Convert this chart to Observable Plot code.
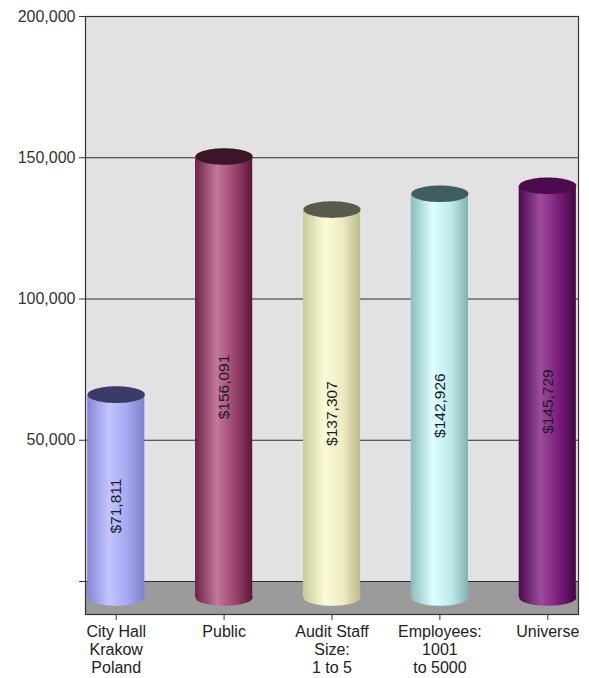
<!DOCTYPE html>
<html>
<head>
<meta charset="utf-8">
<script src="https://cdn.jsdelivr.net/npm/d3@7"></script>
<script src="https://cdn.jsdelivr.net/npm/@observablehq/plot@0.6"></script>
<style>
  html, body { margin: 0; padding: 0; background: #fff; }
</style>
</head>
<body>
<div id="chart"></div>
<script>
// ---- data ----
const categories = ["City Hall\nKrakow\nPoland", "Public", "Audit Staff\nSize:\n1 to 5", "Employees:\n1001\nto 5000", "Universe"];
const values = [71811, 156091, 137307, 142926, 145729];
const valueLabels = ["$71,811", "$156,091", "$137,307", "$142,926", "$145,729"];
const yTicks = [0, 50000, 100000, 150000, 200000];
// cylinder body shading: left edge, highlight, mid, right edge
const bodyColors = [
  ["#8587d6", "#c3c5ff", "#a6a8f0", "#7e80cc"],
  ["#6e2246", "#c2789a", "#9c436d", "#5c1638"],
  ["#c9c99a", "#fbfbda", "#ecebc2", "#bcbc8c"],
  ["#8cbcbc", "#dcffff", "#bfeaea", "#82b2b2"],
  ["#4a0a4a", "#9c4c9c", "#7a1c7a", "#420642"]
];
const topColors = ["#3b3b68", "#3d1529", "#5a5a4c", "#405e5e", "#4c0b4c"];

// ---- layout ----
const W = 589, H = 678;
const mL = 85, mR = 11, mT = 16, mB = 64;
const y0px = 581;           // back-wall baseline
const depth = 33, half = 16; // floor depth / cylinder offset
const pI = 0.47, pO = 0.02;
const band = d3.scaleBand(categories, [mL, W - mR]).paddingInner(pI).paddingOuter(pO);
const rx = band.bandwidth() / 2;

const data = categories.map((c, i) => ({
  category: c, value: values[i], label: valueLabels[i],
  grad: `url(#cyl${i})`, top: topColors[i]
}));

const ellipse = {
  draw(ctx, size) {
    const a = Math.sqrt(size / Math.PI), b = a * 0.29, k = 0.5523;
    ctx.moveTo(a, 0);
    ctx.bezierCurveTo(a, b * k, a * k, b, 0, b);
    ctx.bezierCurveTo(-a * k, b, -a, b * k, -a, 0);
    ctx.bezierCurveTo(-a, -b * k, -a * k, -b, 0, -b);
    ctx.bezierCurveTo(a * k, -b, a, -b * k, a, 0);
    ctx.closePath();
  }
};

const font = "'Liberation Sans', Arial, Helvetica, sans-serif";

const chart = Plot.plot({
  width: W, height: H,
  marginLeft: mL, marginRight: mR, marginTop: mT, marginBottom: mB,
  style: { fontFamily: font, fontSize: "16px", color: "#222", background: "#fff" },
  x: { domain: categories, paddingInner: pI, paddingOuter: pO, round: false, label: null },
  y: { domain: [0, 200000], range: [y0px, mT], label: null },
  color: { type: "identity" },
  marks: [
    Plot.frame({ fill: "#e2e2e2", stroke: null }),
    Plot.rect([0], { y1: d => d, y2: d => d, insetBottom: -depth, fill: "#9b9b9b" }),
    Plot.ruleY(yTicks, { stroke: "#2e2e2e", strokeWidth: 1.2 }),
    Plot.frame({ stroke: "#333", strokeWidth: 1.2 }),
    Plot.dot(data, { x: "category", y: () => 0, dy: half, r: rx, symbol: ellipse, fill: "grad" }),
    Plot.barY(data, { x: "category", y: "value", dy: half, fill: "grad" }),
    Plot.dot(data, { x: "category", y: "value", dy: half, r: rx, symbol: ellipse, fill: "top" }),
    Plot.text(data, { x: "category", y: d => d.value / 2, text: "label", rotate: -90, dy: 26,
                      fontSize: 15.5, fill: "#1c1c26" }),
    Plot.axisX({ tickSize: 6, tickPadding: 3, lineHeight: 1.15, fontSize: 16, label: null, stroke: "#333" }),
    Plot.axisY(yTicks, { tickSize: 6, tickPadding: 4, fontSize: 16, label: null, fill: "#333", stroke: "#333",
                         tickFormat: d => d === 0 ? "" : d3.format(",")(d) })
  ]
});

// gradients for the cylinders
const defs = bodyColors.map((c, i) =>
  `<linearGradient id="cyl${i}" x1="0" x2="1" y1="0" y2="0">
     <stop offset="0" stop-color="${c[0]}"/>
     <stop offset="0.38" stop-color="${c[1]}"/>
     <stop offset="0.7" stop-color="${c[2]}"/>
     <stop offset="1" stop-color="${c[3]}"/>
   </linearGradient>`).join("");
chart.insertAdjacentHTML("afterbegin", `<defs>${defs}</defs>`);

document.getElementById("chart").append(chart);
</script>
</body>
</html>
